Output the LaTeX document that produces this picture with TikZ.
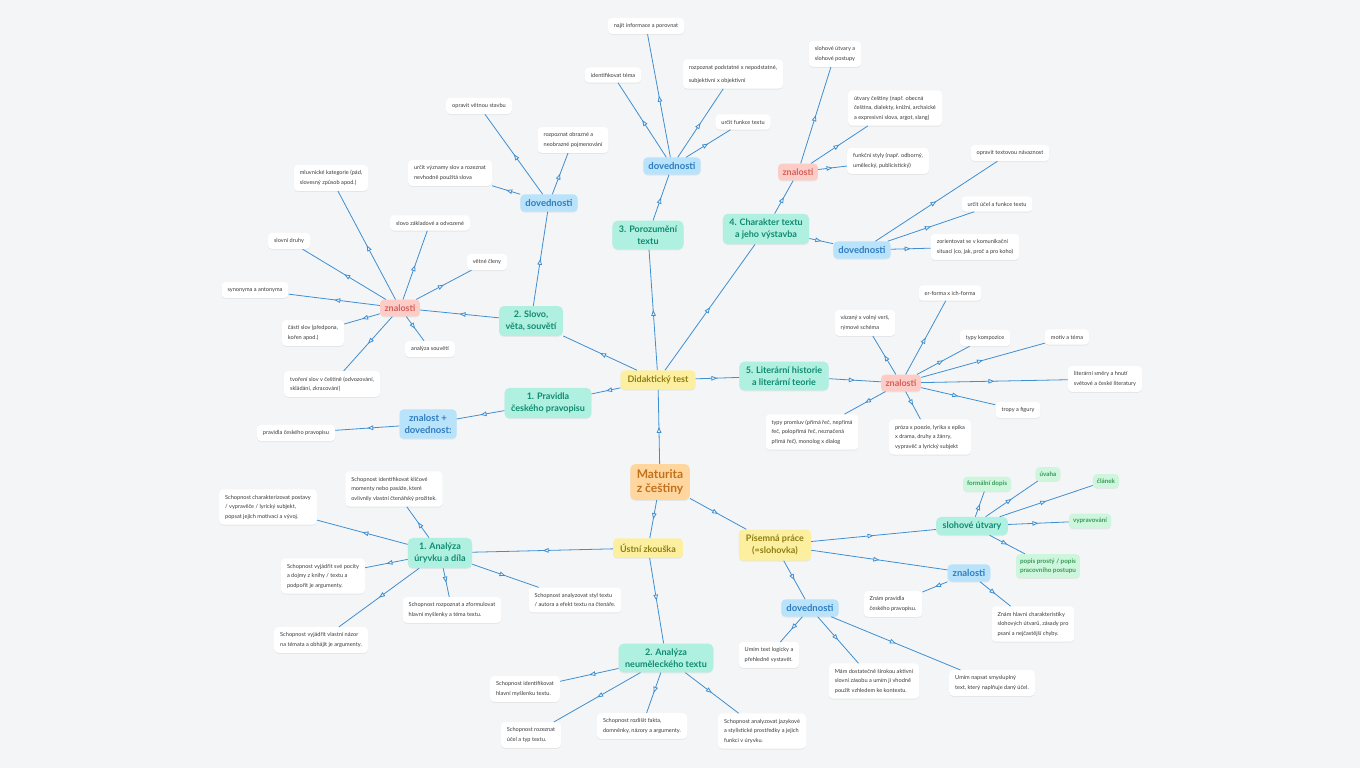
\documentclass[tikz,border=0pt]{standalone}
\usepackage{fontspec}
\setmainfont{Lato}
\usetikzlibrary{arrows.meta, decorations.markings, shadows}

\definecolor{bgc}{HTML}{F4F5F7}
\definecolor{linec}{HTML}{3F8FD0}
\definecolor{rootfill}{HTML}{FFD69E}
\definecolor{roottext}{HTML}{C2701A}
\definecolor{mainfill}{HTML}{FCF0A0}
\definecolor{maintext}{HTML}{8E7D12}
\definecolor{topicfill}{HTML}{AFF0E1}
\definecolor{topictext}{HTML}{0F8A6F}
\definecolor{bluefill}{HTML}{B9E2FB}
\definecolor{bluetext}{HTML}{2F7DBE}
\definecolor{pinkfill}{HTML}{FDCCC6}
\definecolor{pinktext}{HTML}{D45F5A}
\definecolor{greenfill}{HTML}{CDF6DC}
\definecolor{greentext}{HTML}{3A9A5A}
\definecolor{leaftext}{HTML}{3A3A3A}

\tikzset{
    link/.style={draw=linec, line width=0.8pt, postaction={decorate},
        decoration={markings, mark=at position 0.5 with {\arrow{Triangle[length=6pt, width=4.6pt, fill=bgc]}}}},
    box/.style={rounded corners=4pt, drop shadow={opacity=0.12, shadow xshift=0pt, shadow yshift=-1pt}},
    rootbox/.style={box, rounded corners=5pt, fill=rootfill, text=roottext, align=center,
        font=\fontsize{12}{14}\selectfont\bfseries, inner xsep=6.5pt, inner ysep=5.5pt},
    mainbox/.style={box, fill=mainfill, text=maintext, align=center,
        font=\fontsize{9}{12}\selectfont\bfseries, inner xsep=7pt, inner ysep=5.5pt},
    topic/.style={box, rounded corners=5pt, fill=topicfill, text=topictext, align=center,
        font=\fontsize{9}{12}\selectfont\bfseries, inner xsep=6.5pt, inner ysep=5pt},
    dov/.style={box, fill=bluefill, text=bluetext, align=center,
        font=\fontsize{9.5}{12}\selectfont\bfseries, inner xsep=5pt, inner ysep=5pt},
    zn/.style={box, fill=pinkfill, text=pinktext, align=center,
        font=\fontsize{9}{12}\selectfont\bfseries, inner xsep=4.5pt, inner ysep=5pt},
    kind/.style={box, fill=greenfill, text=greentext, align=center,
        font=\fontsize{6.3}{9}\selectfont\bfseries, inner xsep=4pt, inner ysep=4.5pt},
    leaf/.style={box, fill=white, text=leaftext, align=left,
        font=\fontsize{5.6}{9.5}\selectfont, inner xsep=6pt, inner ysep=5.5pt}
}

\begin{document}
\begin{tikzpicture}[x=1pt, y=-1pt]
    \fill[bgc] (0,0) rectangle (1360,768);
    \useasboundingbox (0,0) rectangle (1360,768);

    % centre and the three parts
    \node (root) [rootbox] at (660,482) {Maturita\\z češtiny};
    \node (dt) [mainbox] at (658,380) {Didaktický test};
    \node (ustni) [mainbox] at (648,548) {Ústní zkouška};
    \node (pis) [mainbox] at (775,545) {Písemná práce\\(=slohovka)};

    % didaktický test
    \node (pravidla) [topic] at (548,403) {1. Pravidla\\českého pravopisu};
    \node (slovo) [topic] at (531,321) {2. Slovo,\\věta, souvětí};
    \node (poroz) [topic] at (648,235) {3. Porozumění\\textu};
    \node (charakter) [topic] at (766,229) {4. Charakter textu\\a jeho výstavba};
    \node (lit) [topic] at (784,376) {5. Literární historie\\a literární teorie};

    \node (zd) [dov] at (428,424) {znalost +\\dovednost:};
    \node (pcp) [leaf] at (296,433) {pravidla českého pravopisu};

    \node (slZn) [zn] at (400,308) {znalosti};
    \node (mk) [leaf] at (331,178) {mluvnické kategorie (pád,\\slovesný způsob apod.)};
    \node (sz) [leaf] at (430,223) {slovo základové a odvozené};
    \node (sd) [leaf] at (289,241) {slovní druhy};
    \node (vc) [leaf] at (487,262) {větné členy};
    \node (syn) [leaf] at (255,290) {synonyma a antonyma};
    \node (cs) [leaf] at (313,333) {části slov (předpona,\\kořen apod.)};
    \node (as) [leaf] at (430,349) {analýza souvětí};
    \node (ts) [leaf] at (332,384) {tvoření slov v češtině (odvozování,\\skládání, zkracování)};

    \node (slDov) [dov] at (549,203) {dovednosti};
    \node (ovs) [leaf] at (479,106) {opravit větnou stavbu};
    \node (ron) [leaf] at (573,140) {rozpoznat obrazné a\\neobrazné pojmenování};
    \node (uvs) [leaf] at (450,173) {určit významy slov a rozeznat\\nevhodně použitá slova};

    \node (porDov) [dov] at (672,166) {dovednosti};
    \node (nip) [leaf] at (646,26) {najít informace a porovnat};
    \node (it) [leaf] at (613,75) {identifikovat téma};
    \node (rpn) [leaf, font=\fontsize{5.6}{13}\selectfont] at (733,74) {rozpoznat podstatné x nepodstatné,\\subjektivní x objektivní};
    \node (uft) [leaf] at (743,122) {určit funkce textu};

    \node (chZn) [zn] at (798,172) {znalosti};
    \node (sup) [leaf] at (835,54) {slohové útvary a\\slohové postupy};
    \node (uc) [leaf] at (895,108) {útvary češtiny (např. obecná\\čeština, dialekty, knižní, archaické\\a expresivní slova, argot, slang)};
    \node (fs) [leaf] at (888,161) {funkční styly (např. odborný,\\umělecký, publicistický)};

    \node (chDov) [dov] at (862,250) {dovednosti};
    \node (otn) [leaf] at (1010,153) {opravit textovou návaznost};
    \node (uuf) [leaf] at (997,204) {určit účel a funkce textu};
    \node (zks) [leaf] at (975,247) {zorientovat se v komunikační\\situaci (co, jak, proč a pro koho)};

    \node (litZn) [zn] at (901,383) {znalosti};
    \node (ef) [leaf] at (950,293) {er-forma x ich-forma};
    \node (vv) [leaf] at (865,323) {vázaný x volný verš,\\rýmové schéma};
    \node (tk) [leaf] at (985,338) {typy kompozice};
    \node (mt) [leaf] at (1067,337) {motiv a téma};
    \node (lsh) [leaf] at (1105,379) {literární směry a hnutí\\světové a české literatury};
    \node (tf) [leaf] at (1018,410) {tropy a figury};
    \node (tp) [leaf] at (812,432) {typy promluv (přímá řeč, nepřímá\\řeč, polopřímá řeč, neznačená\\přímá řeč), monolog x dialog};
    \node (pp) [leaf] at (930,437) {próza x poezie, lyrika x epika\\x drama, druhy a žánry,\\vypravěč a lyrický subjekt};

    % ústní zkouška
    \node (uryvek) [topic] at (440,553) {1. Analýza\\úryvku a díla};
    \node (u1) [leaf] at (394,489) {Schopnost identifikovat klíčové\\momenty nebo pasáže, které\\ovlivnily vlastní čtenářský prožitek.};
    \node (u2) [leaf] at (268,507) {Schopnost charakterizovat postavy\\/ vypravěče / lyrický subjekt,\\popsat jejich motivaci a vývoj.};
    \node (u3) [leaf] at (323,576) {Schopnost vyjádřit své pocity\\a dojmy z knihy / textu a\\podpořit je argumenty.};
    \node (u4) [leaf] at (452,610) {Schopnost rozpoznat a zformulovat\\hlavní myšlenky a téma textu.};
    \node (u5) [leaf] at (575,600) {Schopnost analyzovat styl textu\\/ autora a efekt textu na čtenáře.};
    \node (u6) [leaf] at (321,640) {Schopnost vyjádřit vlastní názor\\na témata a obhájit je argumenty.};

    \node (neumel) [topic] at (666,658) {2. Analýza\\neuměleckého textu};
    \node (n1) [leaf] at (525,689) {Schopnost identifikovat\\hlavní myšlenku textu.};
    \node (n2) [leaf] at (531,735) {Schopnost rozeznat\\účel a typ textu.};
    \node (n3) [leaf] at (642,726) {Schopnost rozlišit fakta,\\domněnky, názory a argumenty.};
    \node (n4) [leaf] at (762,731) {Schopnost analyzovat jazykové\\a stylistické prostředky a jejich\\funkci v úryvku.};

    % písemná práce
    \node (sloh) [topic] at (972,526) {slohové útvary};
    \node (fd) [kind] at (987,484) {formální dopis};
    \node (uv) [kind] at (1048,474) {úvaha};
    \node (cl) [kind] at (1106,481) {článek};
    \node (vy) [kind] at (1090,521) {vypravování};
    \node (pp2) [kind] at (1048,566) {popis prostý / popis\\pracovního postupu};

    \node (pisZn) [dov] at (969,573) {znalosti};
    \node (zp) [leaf] at (893,604) {Znám pravidla\\českého pravopisu.};
    \node (zh) [leaf] at (1033,624) {Znám hlavní charakteristiky\\slohových útvarů, zásady pro\\psaní a nejčastější chyby.};

    \node (pisDov) [dov] at (810,608) {dovednosti};
    \node (ul) [leaf] at (769,655) {Umím text logicky a\\přehledně vystavět.};
    \node (mds) [leaf] at (874,681) {Mám dostatečně širokou aktivní\\slovní zásobu a umím ji vhodně\\použít vzhledem ke kontextu.};
    \node (ns) [leaf] at (992,683) {Umím napsat smysluplný\\text, který naplňuje daný účel.};

    \draw
        (root) edge[link] (dt)
        (root) edge[link] (ustni)
        (root) edge[link] (pis)
        (dt) edge[link] (pravidla)
        (dt) edge[link] (slovo)
        (dt) edge[link] (poroz)
        (dt) edge[link] (charakter)
        (dt) edge[link] (lit)
        (pravidla) edge[link] (zd)
        (zd) edge[link] (pcp)
        (slovo) edge[link] (slZn)
        (slovo) edge[link] (slDov)
        (slZn) edge[link] (mk)
        (slZn) edge[link] (sz)
        (slZn) edge[link] (sd)
        (slZn) edge[link] (vc)
        (slZn) edge[link] (syn)
        (slZn) edge[link] (cs)
        (slZn) edge[link] (as)
        (slZn) edge[link] (ts)
        (slDov) edge[link] (ovs)
        (slDov) edge[link] (ron)
        (slDov) edge[link] (uvs)
        (poroz) edge[link] (porDov)
        (porDov) edge[link] (nip)
        (porDov) edge[link] (it)
        (porDov) edge[link] (rpn)
        (porDov) edge[link] (uft)
        (charakter) edge[link] (chZn)
        (charakter) edge[link] (chDov)
        (chZn) edge[link] (sup)
        (chZn) edge[link] (uc)
        (chZn) edge[link] (fs)
        (chDov) edge[link] (otn)
        (chDov) edge[link] (uuf)
        (chDov) edge[link] (zks)
        (lit) edge[link] (litZn)
        (litZn) edge[link] (ef)
        (litZn) edge[link] (vv)
        (litZn) edge[link] (tk)
        (litZn) edge[link] (mt)
        (litZn) edge[link] (lsh)
        (litZn) edge[link] (tf)
        (litZn) edge[link] (tp)
        (litZn) edge[link] (pp)
        (ustni) edge[link] (uryvek)
        (ustni) edge[link] (neumel)
        (uryvek) edge[link] (u1)
        (uryvek) edge[link] (u2)
        (uryvek) edge[link] (u3)
        (uryvek) edge[link] (u4)
        (uryvek) edge[link] (u5)
        (uryvek) edge[link] (u6)
        (neumel) edge[link] (n1)
        (neumel) edge[link] (n2)
        (neumel) edge[link] (n3)
        (neumel) edge[link] (n4)
        (pis) edge[link] (sloh)
        (pis) edge[link] (pisZn)
        (pis) edge[link] (pisDov)
        (sloh) edge[link] (fd)
        (sloh) edge[link] (uv)
        (sloh) edge[link] (cl)
        (sloh) edge[link] (vy)
        (sloh) edge[link] (pp2)
        (pisZn) edge[link] (zp)
        (pisZn) edge[link] (zh)
        (pisDov) edge[link] (ul)
        (pisDov) edge[link] (mds)
        (pisDov) edge[link] (ns)
        ;
\end{tikzpicture}
\end{document}
